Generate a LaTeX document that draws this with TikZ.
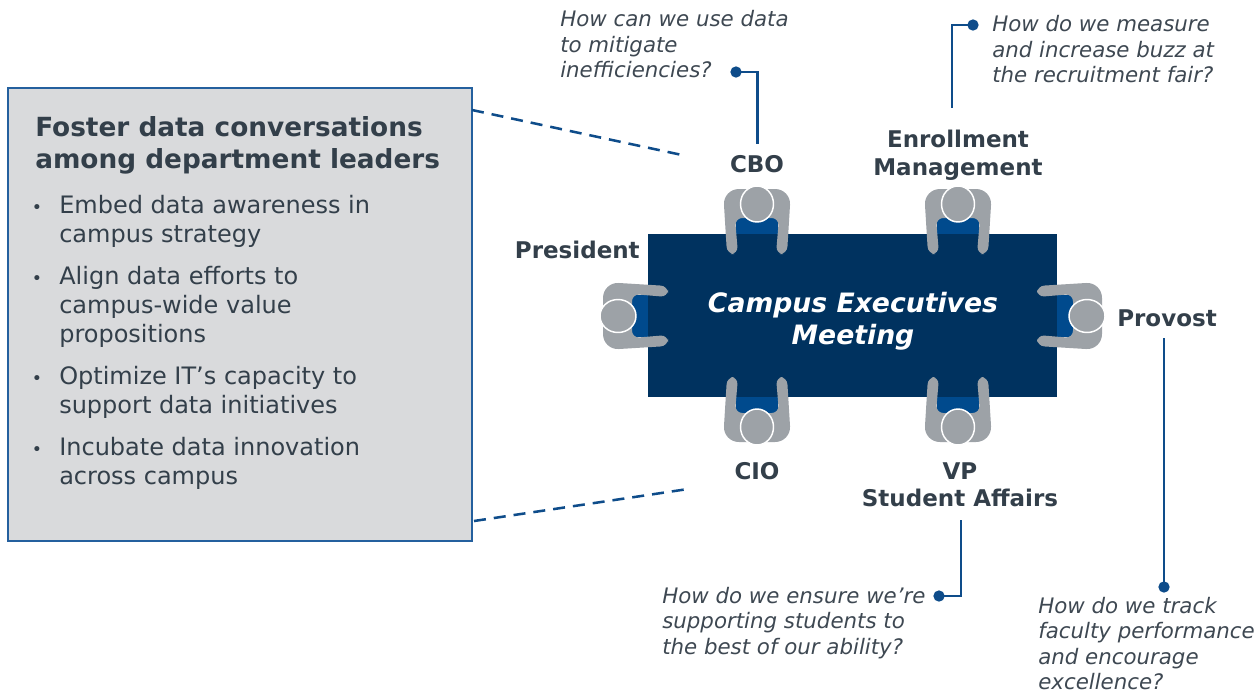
\documentclass[tikz,border=0pt]{standalone}
\usepackage{fontspec}
\setmainfont{DejaVu Sans}
\definecolor{navy}{HTML}{00325F}
\definecolor{accent}{HTML}{004A8D}
\definecolor{pgrey}{HTML}{9DA2A7}
\definecolor{boxfill}{HTML}{D9DADC}
\definecolor{boxline}{HTML}{24609E}
\definecolor{ink}{HTML}{333F4A}
\definecolor{qink}{HTML}{3E4852}
\definecolor{linkc}{HTML}{0E4C8A}
\tikzset{
  person/.pic={
    \fill[accent] (-21,8) rectangle (21,30);
    \fill[pgrey] (-30,50) [rounded corners=12] -- (-34,-15) -- (34,-15) [rounded corners=5.5] -- (30,50) -- (19,50) -- (22,14) -- (-22,14) -- (-19,50) -- cycle;
    \filldraw[fill=pgrey, draw=white, line width=1.1pt] (0,0) ellipse [x radius=16.5, y radius=18];
  },
  lbl/.style={inner sep=0, text=ink, align=center, font=\bfseries\fontsize{17.25pt}{20.5pt}\selectfont},
  headtxt/.style={inner sep=0, anchor=north west, align=left, text=ink, font=\bfseries\fontsize{19.75pt}{24pt}\selectfont},
  qtxt/.style={inner sep=0, anchor=north west, align=left, text=qink, font=\itshape\fontsize{16pt}{19.1pt}\selectfont},
  itemtxt/.style={inner sep=0, anchor=north west, align=left, text=ink, font=\fontsize{18pt}{21.75pt}\selectfont},
  bulletdot/.style={inner sep=0, anchor=base, text=ink, font=\fontsize{13pt}{15pt}\selectfont},
  tabletxt/.style={inner sep=0, anchor=north, align=center, text=white, font=\bfseries\itshape\fontsize{20pt}{24.2pt}\selectfont},
  linkline/.style={draw=linkc, line width=1.9pt},
  linkdot/.style={circle, fill=linkc, inner sep=0, minimum size=8.5pt},
  dashlink/.style={draw=linkc, line width=1.9pt, dash pattern=on 9pt off 6pt},
}
\begin{document}
\begin{tikzpicture}[x=0.75pt,y=-0.75pt]
\useasboundingbox (0,0) rectangle (1256,693);

% left box
\filldraw[fill=boxfill, draw=boxline, line width=2.1pt] (8,88) rectangle (472,541);
\node[headtxt] (head) at (35,116) {Foster data conversations\\among department leaders};
\node[bulletdot] (bu1) at (37,213) {•};
\node[bulletdot] (bu2) at (37,284) {•};
\node[bulletdot] (bu3) at (37,384) {•};
\node[bulletdot] (bu4) at (37,455) {•};
\node[itemtxt] (it1) at (59,195) {Embed data awareness in\\campus strategy};
\node[itemtxt] (it2) at (59,266) {Align data efforts to\\campus-wide value\\propositions};
\node[itemtxt] (it3) at (59,366) {Optimize IT’s capacity to\\support data initiatives};
\node[itemtxt] (it4) at (59,437) {Incubate data innovation\\across campus};

% dashed leaders
\coordinate (da1) at (472,110);
\coordinate (da2) at (682,155);
\coordinate (db1) at (474,521);
\coordinate (db2) at (688,489);
\draw[dashlink] (da1) -- (da2);
\draw[dashlink] (db1) -- (db2);

% table
\fill[navy] (648,234) rectangle (1057,397);
\node[tabletxt] (tabletitle) at (853,291.5) {Campus Executives\\Meeting};

% people
\pic at (757,204) {person};
\pic at (958,204) {person};
\pic[rotate=180] at (757,427) {person};
\pic[rotate=180] at (958,427) {person};
\pic[rotate=90] at (618,316) {person};
\pic[rotate=-90] at (1087,316) {person};

% labels
\node[lbl, anchor=base] (cbo) at (757,172) {CBO};
\node[lbl, anchor=north] (enroll) at (958,130) {Enrollment\\Management};
\node[lbl, anchor=base east] (pres) at (640,258) {President};
\node[lbl, anchor=base west] (prov) at (1117,326) {Provost};
\node[lbl, anchor=base] (cio) at (757,479) {CIO};
\node[lbl, anchor=north] (vp) at (960,462.5) {VP\\Student Affairs};

% questions
\node[qtxt] (q1) at (560,10.5) {How can we use data\\to mitigate\\inefficiencies?};
\node[qtxt] (q2) at (992,15.5) {How do we measure\\and increase buzz at\\the recruitment fair?};
\node[qtxt] (q3) at (662,587) {How do we ensure we’re\\supporting students to\\the best of our ability?};
\node[qtxt] (q4) at (1038,597) {How do we track\\faculty performance\\and encourage\\excellence?};

% connectors
\coordinate (cbotop) at (757.5,144);
\coordinate (entop) at (952,108);
\coordinate (vpbot) at (961,520);
\coordinate (provbot) at (1164,338);
\node[linkdot] (d1) at (736,72) {};
\node[linkdot] (d2) at (973,25) {};
\node[linkdot] (d3) at (939,596) {};
\node[linkdot] (d4) at (1164,587) {};
\draw[linkline] (d1.center) -| (cbotop);
\draw[linkline] (d2.center) -| (entop);
\draw[linkline] (vpbot) |- (d3.center);
\draw[linkline] (provbot) -- (d4.center);
\end{tikzpicture}
\end{document}
